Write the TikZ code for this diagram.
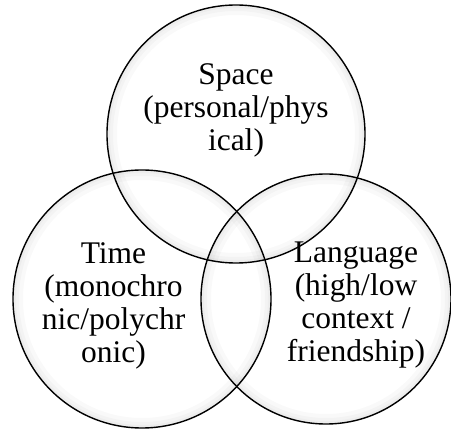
\documentclass[tikz,border=0pt]{standalone}
\usepackage{fontspec}
\setmainfont{Liberation Serif}
\begin{document}
\begin{tikzpicture}[x=1pt,y=1pt,
  ring/.style={draw=black, line width=1.4pt},
  glow/.style={draw=black, opacity=0.025},
  label/.style={align=center, inner sep=0pt, font=\fontsize{31.5}{33}\selectfont}]
\useasboundingbox (0,0) rectangle (451,429);
\fill[white] (0,0) rectangle (451,429);
% circle centres and radii
\coordinate (cs) at (236,295);
\coordinate (ct) at (142,130);
\coordinate (cl) at (326,130);
% faint inner shading along each rim
\foreach \c/\r in {cs/129, ct/129, cl/125}{
  \foreach \w in {10,6,3}{
    \draw[glow, line width=\w pt] (\c) circle ({\r-\w/2});
  }
}
% the three rims
\draw[ring] (cs) circle (129);
\draw[ring] (ct) circle (129);
\draw[ring] (cl) circle (125);
% labels
\node[label] (space) at (236,319) {Space\\(personal/phys\\ical)};
\node[label] (time) at (113.5,123.5) {Time\\(monochro\\nic/polychr\\onic)};
\node[label] (lang) at (356,124) {Language\\(high/low\\context /\\friendship)};
\end{tikzpicture}
\end{document}
